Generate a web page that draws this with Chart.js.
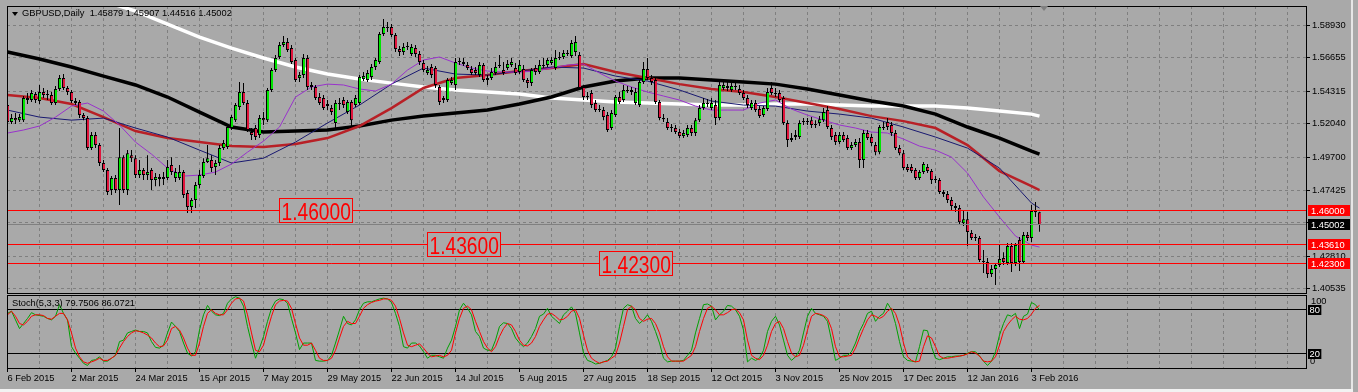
<!DOCTYPE html>
<html><head><meta charset="utf-8"><title>GBPUSD Daily</title>
<script src="https://cdn.jsdelivr.net/npm/chart.js@4.4.1/dist/chart.umd.min.js"></script>
<style>
html,body{margin:0;padding:0;}
body{width:1358px;height:392px;background:#a9a9a9;position:relative;overflow:hidden;font-family:"Liberation Sans",Arial,sans-serif;}
canvas{position:absolute;left:0;}
#mainChart{top:0;}
#stochChart{top:294px;}
.t{position:absolute;font-size:9.3px;line-height:9.3px;color:#000;white-space:pre;}
#tri{position:absolute;left:12px;top:12px;width:0;height:0;border-left:3px solid transparent;border-right:3px solid transparent;border-top:4px solid #000;}
#shift{position:absolute;left:1040px;top:6px;width:0;height:0;border-left:4px solid transparent;border-right:4px solid transparent;border-top:5px solid #808080;}
#edgeR{position:absolute;left:1351px;top:0;width:2px;height:389px;background:#e6e6e6;}
#edgeB{position:absolute;left:0;top:389px;width:1353px;height:3px;background:#f2f2f2;}
</style></head>
<body>
<canvas id="mainChart" width="1358" height="294"></canvas>
<canvas id="stochChart" width="1358" height="98"></canvas>
<div id="tri"></div>
<div class="t" id="mainTitle" style="left:22px;top:9px;"></div>
<div class="t" id="stochTitle" style="left:12px;top:299px;"></div>
<div id="shift"></div>
<div id="edgeR"></div><div id="edgeB"></div>
<script>
// ---------- tick labels ----------
const priceTicks = [1.58930,1.56655,1.54315,1.52040,1.49700,1.47425,1.45150,1.42810,1.40535];
const dateLabels = ['6 Feb 2015','2 Mar 2015','24 Mar 2015','15 Apr 2015','7 May 2015','29 May 2015','22 Jun 2015','14 Jul 2015','5 Aug 2015','27 Aug 2015','18 Sep 2015','12 Oct 2015','3 Nov 2015','25 Nov 2015','17 Dec 2015','12 Jan 2016','3 Feb 2016'];
const dateIdx = [0,16,32,48,64,80,96,112,128,144,160,176,192,208,224,240,256];
const gridIdx = [0,8,16,24,32,40,48,56,64,72,80,88,96,104,112,120,128,136,144,152,160,168,176,184,192,200,208,216,224,232,240,248,256,264,272,280,288,296,304,312,320];
const stochTicks = [0,20,80,100];

// ---------- daily candles (bar index 0 = 6 Feb 2015) ----------
const opens = [
1.5335,1.5217,1.5244,1.5230,1.5230,1.5384,1.5370,1.5412,1.5363,1.5426,
1.5405,1.5405,1.5349,1.5447,1.5523,1.5454,1.5426,1.5363,1.5356,1.5265,
1.5244,1.5035,1.5126,1.5056,1.4931,1.4882,1.4743,1.4826,1.4743,1.4972,
1.4743,1.4986,1.4965,1.4847,1.4882,1.4847,1.4882,1.4812,1.4833,1.4819,
1.4826,1.4917,1.4826,1.4826,1.4868,1.4722,1.4624,1.4673,1.4777,1.4840,
1.4938,1.4952,1.4903,1.4931,1.5035,1.5042,1.5175,1.5230,1.5321,1.5426,
1.5349,1.5147,1.5175,1.5126,1.5244,1.5230,1.5440,1.5579,1.5670,1.5753,
1.5774,1.5732,1.5649,1.5523,1.5544,1.5663,1.5461,1.5461,1.5391,1.5384,
1.5342,1.5314,1.5210,1.5349,1.5370,1.5286,1.5356,1.5335,1.5349,1.5516,
1.5509,1.5530,1.5600,1.5635,1.5830,1.5879,1.5879,1.5823,1.5725,1.5705,
1.5746,1.5691,1.5732,1.5691,1.5628,1.5558,1.5600,1.5593,1.5461,1.5370,
1.5370,1.5488,1.5475,1.5635,1.5635,1.5614,1.5586,1.5579,1.5544,1.5614,
1.5523,1.5523,1.5558,1.5614,1.5579,1.5593,1.5614,1.5593,1.5565,1.5586,
1.5509,1.5488,1.5593,1.5565,1.5614,1.5614,1.5628,1.5593,1.5670,1.5670,
1.5691,1.5677,1.5705,1.5684,1.5461,1.5391,1.5419,1.5349,1.5300,1.5300,
1.5265,1.5175,1.5265,1.5391,1.5370,1.5440,1.5440,1.5349,1.5335,1.5495,
1.5586,1.5523,1.5509,1.5356,1.5244,1.5217,1.5175,1.5175,1.5147,1.5119,
1.5126,1.5175,1.5140,1.5230,1.5314,1.5349,1.5314,1.5335,1.5244,1.5454,
1.5468,1.5440,1.5468,1.5447,1.5419,1.5384,1.5314,1.5349,1.5307,1.5265,
1.5307,1.5454,1.5419,1.5419,1.5384,1.5210,1.5091,1.5112,1.5112,1.5223,
1.5217,1.5230,1.5203,1.5210,1.5230,1.5300,1.5175,1.5126,1.5077,1.5126,
1.5105,1.5035,1.5056,1.5077,1.4952,1.5140,1.5112,1.5056,1.5007,1.5182,
1.5217,1.5196,1.5140,1.5035,1.5000,1.4903,1.4903,1.4882,1.4826,1.4868,
1.4903,1.4875,1.4819,1.4812,1.4729,1.4715,1.4673,1.4631,1.4617,1.4512,
1.4540,1.4443,1.4415,1.4408,1.4248,1.4241,1.4157,1.4192,1.4220,1.4269,
1.4234,1.4352,1.4234,1.4394,1.4241,1.4429,1.4408,1.4596,1.45879];
const highs = [
1.5370,1.5272,1.5279,1.5272,1.5398,1.5419,1.5440,1.5426,1.5475,1.5454,
1.5440,1.5426,1.5468,1.5544,1.5551,1.5468,1.5440,1.5384,1.5370,1.5279,
1.5258,1.5147,1.5147,1.5070,1.4952,1.4896,1.4840,1.4847,1.5175,1.4986,
1.5021,1.5021,1.4986,1.4952,1.4896,1.4986,1.4896,1.4861,1.4854,1.4868,
1.4952,1.4972,1.4896,1.4917,1.4882,1.4743,1.4687,1.4798,1.4882,1.4965,
1.5056,1.4986,1.4952,1.5056,1.5091,1.5196,1.5265,1.5349,1.5495,1.5488,
1.5370,1.5175,1.5196,1.5265,1.5286,1.5454,1.5593,1.5684,1.5774,1.5816,
1.5802,1.5753,1.5663,1.5565,1.5691,1.5684,1.5495,1.5475,1.5419,1.5405,
1.5370,1.5335,1.5370,1.5384,1.5391,1.5370,1.5370,1.5405,1.5544,1.5565,
1.5579,1.5621,1.5663,1.5844,1.5935,1.5914,1.5900,1.5837,1.5746,1.5767,
1.5774,1.5760,1.5753,1.5712,1.5649,1.5607,1.5621,1.5607,1.5475,1.5398,
1.5523,1.5530,1.5663,1.5663,1.5663,1.5635,1.5607,1.5600,1.5635,1.5628,
1.5544,1.5593,1.5635,1.5684,1.5635,1.5649,1.5663,1.5628,1.5649,1.5614,
1.5523,1.5593,1.5614,1.5649,1.5663,1.5663,1.5670,1.5718,1.5705,1.5718,
1.5718,1.5788,1.5816,1.5705,1.5475,1.5426,1.5440,1.5370,1.5335,1.5321,
1.5286,1.5300,1.5405,1.5426,1.5475,1.5468,1.5461,1.5454,1.5509,1.5635,
1.5663,1.5544,1.5523,1.5370,1.5272,1.5244,1.5203,1.5196,1.5168,1.5161,
1.5196,1.5196,1.5244,1.5335,1.5384,1.5377,1.5384,1.5370,1.5509,1.5509,
1.5495,1.5495,1.5495,1.5475,1.5440,1.5405,1.5370,1.5370,1.5328,1.5328,
1.5454,1.5495,1.5454,1.5440,1.5398,1.5230,1.5140,1.5161,1.5230,1.5244,
1.5244,1.5251,1.5230,1.5258,1.5314,1.5328,1.5196,1.5147,1.5147,1.5147,
1.5126,1.5077,1.5098,1.5105,1.5161,1.5161,1.5133,1.5077,1.5196,1.5217,
1.5244,1.5217,1.5161,1.5056,1.5021,1.4924,1.4924,1.4896,1.4882,1.4938,
1.4924,1.4889,1.4840,1.4826,1.4743,1.4736,1.4694,1.4652,1.4638,1.4603,
1.4589,1.4464,1.4436,1.4422,1.4324,1.4269,1.4220,1.4234,1.4366,1.4310,
1.4373,1.4373,1.4373,1.4415,1.4450,1.4450,1.4638,1.4659,1.45907];
const lows = [
1.5182,1.5203,1.5203,1.5217,1.5217,1.5342,1.5356,1.5349,1.5342,1.5384,
1.5370,1.5335,1.5335,1.5433,1.5440,1.5405,1.5349,1.5335,1.5244,1.5230,
1.5021,1.5021,1.5035,1.4910,1.4868,1.4708,1.4708,1.4722,1.4638,1.4722,
1.4708,1.4938,1.4826,1.4826,1.4812,1.4812,1.4743,1.4770,1.4770,1.4777,
1.4812,1.4847,1.4798,1.4812,1.4687,1.4582,1.4582,1.4617,1.4756,1.4826,
1.4931,1.4868,1.4847,1.4910,1.5021,1.5028,1.5161,1.5217,1.5300,1.5335,
1.5147,1.5091,1.5091,1.5105,1.5196,1.5217,1.5426,1.5565,1.5656,1.5739,
1.5705,1.5621,1.5495,1.5495,1.5523,1.5440,1.5440,1.5370,1.5335,1.5300,
1.5300,1.5265,1.5175,1.5300,1.5314,1.5272,1.5189,1.5321,1.5335,1.5502,
1.5495,1.5509,1.5579,1.5621,1.5816,1.5844,1.5809,1.5705,1.5677,1.5684,
1.5718,1.5677,1.5670,1.5614,1.5565,1.5544,1.5523,1.5454,1.5335,1.5349,
1.5356,1.5475,1.5440,1.5614,1.5607,1.5579,1.5544,1.5544,1.5530,1.5495,
1.5475,1.5509,1.5544,1.5593,1.5544,1.5579,1.5600,1.5544,1.5551,1.5495,
1.5454,1.5468,1.5544,1.5551,1.5593,1.5600,1.5614,1.5579,1.5649,1.5656,
1.5677,1.5663,1.5677,1.5440,1.5370,1.5370,1.5314,1.5286,1.5286,1.5230,
1.5147,1.5161,1.5251,1.5342,1.5356,1.5419,1.5405,1.5335,1.5321,1.5481,
1.5509,1.5475,1.5342,1.5230,1.5217,1.5161,1.5147,1.5133,1.5105,1.5105,
1.5112,1.5119,1.5119,1.5217,1.5300,1.5321,1.5300,1.5196,1.5230,1.5440,
1.5433,1.5426,1.5440,1.5405,1.5370,1.5314,1.5300,1.5286,1.5244,1.5251,
1.5293,1.5405,1.5391,1.5356,1.5196,1.5042,1.5077,1.5091,1.5098,1.5196,
1.5196,1.5175,1.5175,1.5189,1.5217,1.5168,1.5091,1.5056,1.5063,1.5077,
1.5021,1.5021,1.5042,1.4896,1.4896,1.5091,1.5049,1.4986,1.4993,1.5161,
1.5161,1.5119,1.5021,1.4986,1.4882,1.4868,1.4861,1.4812,1.4812,1.4854,
1.4861,1.4784,1.4791,1.4715,1.4694,1.4652,1.4603,1.4589,1.4500,1.4492,
1.4352,1.4394,1.4387,1.4241,1.4164,1.4129,1.4136,1.4080,1.4206,1.4220,
1.4220,1.4171,1.4213,1.4178,1.4227,1.4387,1.4380,1.4554,1.44516];
const closes = [
1.5217,1.5244,1.5230,1.5251,1.5384,1.5370,1.5419,1.5370,1.5426,1.5405,
1.5412,1.5349,1.5447,1.5523,1.5454,1.5426,1.5363,1.5349,1.5265,1.5244,
1.5035,1.5126,1.5056,1.4931,1.4882,1.4729,1.4826,1.4743,1.4972,1.4743,
1.5000,1.4965,1.4847,1.4882,1.4847,1.4868,1.4812,1.4833,1.4819,1.4833,
1.4903,1.4868,1.4868,1.4868,1.4708,1.4624,1.4673,1.4777,1.4847,1.4938,
1.4965,1.4896,1.4931,1.5035,1.5070,1.5182,1.5251,1.5335,1.5426,1.5349,
1.5161,1.5126,1.5112,1.5244,1.5230,1.5440,1.5579,1.5663,1.5753,1.5774,
1.5718,1.5635,1.5509,1.5544,1.5663,1.5461,1.5475,1.5384,1.5349,1.5314,
1.5328,1.5286,1.5349,1.5342,1.5335,1.5356,1.5230,1.5384,1.5530,1.5537,
1.5558,1.5600,1.5649,1.5830,1.5879,1.5872,1.5823,1.5725,1.5705,1.5739,
1.5739,1.5739,1.5691,1.5635,1.5579,1.5579,1.5544,1.5475,1.5356,1.5384,
1.5509,1.5509,1.5635,1.5642,1.5621,1.5593,1.5558,1.5558,1.5614,1.5509,
1.5509,1.5565,1.5600,1.5607,1.5558,1.5621,1.5635,1.5558,1.5614,1.5509,
1.5488,1.5579,1.5565,1.5614,1.5607,1.5649,1.5649,1.5663,1.5663,1.5698,
1.5698,1.5767,1.5774,1.5454,1.5391,1.5398,1.5335,1.5300,1.5307,1.5251,
1.5161,1.5279,1.5391,1.5356,1.5440,1.5433,1.5426,1.5426,1.5495,1.5586,
1.5523,1.5495,1.5356,1.5244,1.5237,1.5175,1.5182,1.5147,1.5119,1.5140,
1.5175,1.5140,1.5230,1.5314,1.5349,1.5342,1.5349,1.5244,1.5475,1.5475,
1.5454,1.5468,1.5461,1.5419,1.5384,1.5335,1.5349,1.5300,1.5258,1.5314,
1.5426,1.5419,1.5412,1.5370,1.5210,1.5091,1.5105,1.5126,1.5210,1.5217,
1.5223,1.5196,1.5196,1.5237,1.5286,1.5182,1.5112,1.5077,1.5126,1.5091,
1.5035,1.5056,1.5077,1.4952,1.5140,1.5105,1.5070,1.5007,1.5182,1.5175,
1.5182,1.5140,1.5035,1.5000,1.4896,1.4882,1.4875,1.4826,1.4868,1.4924,
1.4875,1.4812,1.4812,1.4729,1.4715,1.4673,1.4631,1.4617,1.4519,1.4540,
1.4450,1.4408,1.4408,1.4255,1.4241,1.4157,1.4192,1.4220,1.4262,1.4241,
1.4352,1.4234,1.4359,1.4241,1.4429,1.4408,1.4596,1.4588,1.45002];

// ---------- moving averages (sampled at bar indices) ----------
const maIdx = [0,8,16,24,32,40,48,56,64,72,80,88,96,104,112,120,128,136,144,152,160,168,176,184,192,200,208,216,224,232,240,248,256,258];
const maWhite = [1.6318,1.6234,1.6147,1.6060,1.5990,1.5900,1.5809,1.5732,1.5663,1.5600,1.5551,1.5516,1.5488,1.5461,1.5440,1.5426,1.5412,1.5384,1.5370,1.5356,1.5349,1.5342,1.5335,1.5335,1.5342,1.5342,1.5335,1.5328,1.5328,1.5328,1.5314,1.5293,1.5272,1.5258];
const maBlack = [1.5705,1.5656,1.5600,1.5537,1.5475,1.5391,1.5286,1.5182,1.5147,1.5154,1.5161,1.5189,1.5230,1.5258,1.5279,1.5300,1.5342,1.5391,1.5461,1.5502,1.5523,1.5523,1.5509,1.5495,1.5481,1.5447,1.5405,1.5363,1.5328,1.5272,1.5182,1.5105,1.5014,1.4993];
const maRed = [1.5405,1.5384,1.5342,1.5251,1.5154,1.5105,1.5077,1.5049,1.5042,1.5063,1.5105,1.5189,1.5314,1.5454,1.5523,1.5544,1.5572,1.5593,1.5621,1.5565,1.5523,1.5481,1.5447,1.5426,1.5391,1.5349,1.5307,1.5258,1.5223,1.5175,1.5056,1.4875,1.4770,1.4743];
const maNavy = [1.5300,1.5251,1.5230,1.5244,1.5175,1.5112,1.5021,1.4931,1.4965,1.5077,1.5210,1.5335,1.5481,1.5593,1.5551,1.5544,1.5572,1.5600,1.5593,1.5537,1.5502,1.5440,1.5363,1.5335,1.5328,1.5293,1.5272,1.5244,1.5182,1.5112,1.5035,1.4896,1.4652,1.4617];
const maFastIdx = [0,4,8,12,16,20,24,28,32,36,40,44,48,52,56,60,64,68,72,76,80,84,88,92,96,100,104,108,112,116,120,124,128,132,136,140,144,148,152,156,160,164,168,172,176,180,184,188,192,196,200,204,208,212,216,220,224,228,232,236,240,244,248,252,256,258];
const maPurple = [1.5140,1.5161,1.5189,1.5251,1.5328,1.5349,1.5293,1.5196,1.5077,1.4993,
1.4896,1.4840,1.4847,1.4868,1.4924,1.5007,1.5084,1.5182,1.5391,1.5461,
1.5481,1.5475,1.5447,1.5433,1.5481,1.5579,1.5649,1.5670,1.5628,1.5593,
1.5572,1.5565,1.5565,1.5572,1.5593,1.5614,1.5621,1.5558,1.5502,1.5461,
1.5426,1.5398,1.5370,1.5328,1.5300,1.5300,1.5300,1.5349,1.5370,1.5307,
1.5265,1.5230,1.5196,1.5175,1.5147,1.5140,1.5098,1.5049,1.5021,1.4972,
1.4861,1.4694,1.4554,1.4422,1.4359,1.4345];

// ---------- stochastic (5,3,3) ----------
const stochK = [
75,78,66,54,61,68,76,73,72,71, 68,66,71,87,75,66,29,20,13,6,
3,10,11,15,9,9,13,17,36,38, 48,50,52,50,50,48,36,28,27,31,
48,63,57,50,34,20,16,22,52,73, 86,78,73,72,75,89,95,98,96,85,
57,34,13,27,43,64,82,92,95,94, 89,68,48,25,34,34,34,10,9,9,
10,17,34,52,71,61,59,66,80,89, 91,91,93,95,96,95,90,75,57,29,
27,34,34,30,22,13,17,17,15,13, 27,38,57,80,89,82,73,50,43,27,
24,24,38,57,62,61,54,41,34,29, 34,43,54,71,74,82,71,66,61,73,
78,84,75,48,20,10,8,5,6,8, 10,15,27,57,82,87,85,68,61,66,
73,64,50,34,13,8,9,9,9,10, 17,24,48,68,87,88,85,66,73,78,
86,85,80,71,52,8,13,10,13,24, 50,64,71,59,38,17,10,15,24,48,
71,82,75,73,71,64,38,10,13,17, 17,22,34,50,61,75,78,64,71,75,
89,80,61,36,15,10,9,8,29,52, 51,29,13,11,13,15,15,16,16,17,
20,22,22,16,9,3,9,22,45,61, 73,71,75,54,71,74,90,87,79.7506];
const stochD = [
73,78,71,61,59,64,71,73,73,72, 68,67,71,75,75,66,48,27,15,8,
6,8,10,13,10,10,13,17,27,36, 43,48,51,50,48,45,41,34,29,30,
38,54,57,52,41,27,17,17,34,57, 75,80,75,73,73,80,89,95,96,92,
73,48,24,22,31,52,71,87,92,93, 92,82,61,41,31,31,34,24,13,10,
10,13,24,41,57,64,61,61,71,82, 87,90,92,93,95,95,93,85,68,48,
31,29,31,33,27,20,15,16,17,15, 17,24,48,68,82,85,80,64,50,36,
27,22,29,43,54,61,59,50,38,31, 30,34,43,57,66,74,75,71,66,67,
71,78,80,68,45,24,13,9,6,8, 9,13,17,34,57,80,85,80,68,64,
67,68,61,48,29,15,9,9,9,9, 13,17,29,50,68,82,85,80,73,73,
76,80,81,76,66,38,17,13,11,17, 31,50,61,64,54,36,20,15,17,31,
52,71,75,74,72,68,54,29,15,15, 16,17,27,41,54,66,73,71,68,71,
78,82,75,59,34,15,10,8,9,29, 44,41,29,16,13,13,14,15,16,17,
19,22,20,16,9,8,9,15,31,50, 59,66,71,67,66,68,74,82,86.0721];
const stochLevels = [80,20];

// ---------- horizontal lines ----------
const levelValues = [1.46000,1.43610,1.42300];
const levelTexts = ['1.46000','1.43600','1.42300'];
const levelTextAt = [68,105,148];
const bidPrice = 1.45002;

// ---------- styles ----------
const FONT = '"Liberation Sans", Arial, sans-serif';
const BG = '#a9a9a9', GRID = '#7f7f7f';
const BULL = '#00e600', BEAR = '#e0143c';
const N = opens.length;
const barIdx = opens.map((_, i) => i);

document.getElementById('mainTitle').textContent =
  'GBPUSD,Daily  ' + [opens[N-1], highs[N-1], lows[N-1], closes[N-1]].map(v => v.toFixed(5)).join(' ');
document.getElementById('stochTitle').textContent =
  'Stoch(5,3,3) ' + stochK[N-1].toFixed(4) + ' ' + stochD[N-1].toFixed(4);

function lineSet(label, idx, vals, color, width, order) {
  return { type: 'line', label, data: idx.map((v, k) => ({ x: v, y: vals[k] })),
    borderColor: color, borderWidth: width, pointRadius: 0, fill: false, tension: 0, order };
}

const framePlugin = {
  id: 'frame',
  afterDraw(chart) {
    const { ctx, chartArea: a } = chart;
    ctx.save();
    ctx.strokeStyle = '#000'; ctx.lineWidth = 1;
    ctx.strokeRect(a.left + 0.5, a.top + 0.5, a.right - a.left, a.bottom - a.top);
    ctx.restore();
  }
};

const mainOverlay = {
  id: 'mainOverlay',
  afterDatasetsDraw(chart) {
    const { ctx, chartArea: a, scales: { x, y } } = chart;
    ctx.save();
    ctx.beginPath(); ctx.rect(a.left, a.top, a.right - a.left, a.bottom - a.top); ctx.clip();
    ctx.lineWidth = 1;
    let py = Math.floor(y.getPixelForValue(bidPrice)) + 0.5;
    ctx.strokeStyle = '#808080';
    ctx.beginPath(); ctx.moveTo(a.left, py); ctx.lineTo(a.right, py); ctx.stroke();
    ctx.strokeStyle = '#ff0000';
    levelValues.forEach(v => {
      const p = Math.floor(y.getPixelForValue(v)) + 0.5;
      ctx.beginPath(); ctx.moveTo(a.left, p); ctx.lineTo(a.right, p); ctx.stroke();
    });
    levelValues.forEach((v, k) => {
      const bx = Math.floor(x.getPixelForValue(levelTextAt[k]));
      const ly = Math.floor(y.getPixelForValue(v));
      const by = ly - 12;
      ctx.fillStyle = BG; ctx.fillRect(bx, by, 74, 25);
      ctx.strokeStyle = '#ff0000'; ctx.strokeRect(bx + 0.5, by + 0.5, 73, 24);
      ctx.save();
      ctx.translate(bx + 2.5, ly + 10);
      ctx.scale(0.8, 1);
      ctx.fillStyle = '#ff0000';
      ctx.font = '24px ' + FONT;
      ctx.textBaseline = 'alphabetic';
      ctx.fillText(levelTexts[k], 0, 0);
      ctx.restore();
    });
    ctx.restore();
  },
  afterDraw(chart) {
    const { ctx, scales: { y } } = chart;
    const boxes = [
      { v: levelValues[0], c: '#ff0000' },
      { v: bidPrice, c: '#000000' },
      { v: levelValues[1], c: '#ff0000' },
      { v: levelValues[2], c: '#ff0000' }
    ];
    ctx.save();
    ctx.font = '9.3px ' + FONT;
    ctx.textBaseline = 'alphabetic';
    boxes.forEach(b => {
      const p = Math.floor(y.getPixelForValue(b.v));
      ctx.fillStyle = b.c;
      ctx.fillRect(1308, p - 5, 42, 11);
      ctx.fillStyle = '#ffffff';
      ctx.fillText(b.v.toFixed(5), 1311, p + 4);
    });
    ctx.restore();
  }
};

const stochOverlay = {
  id: 'stochOverlay',
  beforeDatasetsDraw(chart) {
    const { ctx, chartArea: a, scales: { y } } = chart;
    ctx.save(); ctx.strokeStyle = '#000'; ctx.lineWidth = 1;
    stochLevels.forEach(v => {
      const p = Math.floor(y.getPixelForValue(v)) + 0.5;
      ctx.beginPath(); ctx.moveTo(a.left, p); ctx.lineTo(a.right, p); ctx.stroke();
    });
    ctx.restore();
  },
  afterDraw(chart) {
    const { ctx, scales: { y } } = chart;
    ctx.save();
    ctx.font = '9.3px ' + FONT;
    ctx.textBaseline = 'alphabetic';
    stochTicks.forEach(v => {
      const p = y.getPixelForValue(v);
      const txt = String(v);
      if (v === 20 || v === 80) {
        const w = ctx.measureText(txt).width;
        ctx.fillStyle = '#000';
        ctx.fillRect(1308, Math.floor(p) - 4, w + 3, 10);
        ctx.fillStyle = '#fff';
        ctx.fillText(txt, 1309.5, Math.floor(p) + 4);
      } else if (v === 100) {
        ctx.fillStyle = '#000';
        ctx.fillText(txt, 1311, p + 8.5);
      } else {
        ctx.fillStyle = '#000';
        ctx.fillText(txt, 1310, p - 3.5);
      }
    });
    ctx.restore();
  }
};

const xCommon = {
  type: 'linear', min: -0.125, max: 324.625, offset: false,
  afterBuildTicks: s => { s.ticks = gridIdx.map(v => ({ value: v })); }
};

new Chart(document.getElementById('mainChart'), {
  type: 'bar',
  data: {
    datasets: [
      { type: 'bar', label: 'Range', data: barIdx.map(i => ({ x: i, y: [lows[i], highs[i]] })),
        backgroundColor: '#000', borderWidth: 0, barThickness: 1, grouped: false, inflateAmount: 0, order: 1 },
      { type: 'bar', label: 'Body', data: barIdx.map(i => ({ x: i, y: [opens[i], closes[i]] })),
        backgroundColor: barIdx.map(i => closes[i] >= opens[i] ? BULL : BEAR),
        borderColor: '#000', borderWidth: { left: 1, right: 0, top: 1, bottom: 1 }, borderSkipped: false,
        barThickness: 3, minBarLength: 1, grouped: false, inflateAmount: 0, order: 0 },
      lineSet('MA white', maIdx, maWhite, '#ffffff', 3.5, 7),
      lineSet('MA black', maIdx, maBlack, '#000000', 3.5, 6),
      lineSet('MA red', maIdx, maRed, '#b82026', 2.5, 5),
      lineSet('MA navy', maIdx, maNavy, '#191970', 1, 4),
      lineSet('MA purple', maFastIdx, maPurple, '#9932cc', 1, 3)
    ]
  },
  options: {
    responsive: false, animation: false, devicePixelRatio: 1, events: [],
    layout: { padding: { left: 7, top: 6, right: 0, bottom: 1 } },
    plugins: { legend: { display: false }, tooltip: { enabled: false } },
    scales: {
      x: Object.assign({}, xCommon, {
        afterFit: s => { s.height = 0; s.paddingLeft = 0; s.paddingRight = 0; },
        ticks: { display: false },
        grid: { color: GRID, offset: false, drawTicks: false, lineWidth: 1 },
        border: { display: false, dash: [3, 3] }
      }),
      y: {
        type: 'linear', position: 'right', min: 1.40251, max: 1.60255, beginAtZero: false,
        afterBuildTicks: s => { s.ticks = priceTicks.map(v => ({ value: v })); },
        afterFit: s => { s.width = 52; s.paddingTop = 0; s.paddingBottom = 0; },
        ticks: { callback: v => v.toFixed(5), color: '#000', font: { family: FONT, size: 9.3 }, padding: 2, autoSkip: false },
        grid: { color: GRID, drawTicks: true, tickLength: 4, tickColor: '#000', tickBorderDash: [], tickWidth: 1, lineWidth: 1 },
        border: { display: false, dash: [3, 3] }
      }
    }
  },
  plugins: [framePlugin, mainOverlay]
});

new Chart(document.getElementById('stochChart'), {
  type: 'line',
  data: {
    datasets: [
      lineSet('%K', barIdx, stochK, '#00a000', 1, 2),
      lineSet('%D', barIdx, stochD, '#ff0000', 1, 1)
    ]
  },
  options: {
    responsive: false, animation: false, devicePixelRatio: 1, events: [],
    layout: { padding: { left: 7, top: 1, right: 0, bottom: 0 } },
    plugins: { legend: { display: false }, tooltip: { enabled: false } },
    scales: {
      x: Object.assign({}, xCommon, {
        afterFit: s => { s.height = 24; s.paddingLeft = 0; s.paddingRight = 0; },
        ticks: { autoSkip: false, maxRotation: 0, minRotation: 0, align: 'start', padding: 1, color: '#000',
          font: { family: FONT, size: 9.3 },
          callback: v => { const k = dateIdx.indexOf(v); return k < 0 ? '' : dateLabels[k]; } },
        grid: { color: GRID, offset: false, drawTicks: true, tickLength: 4, tickBorderDash: [], lineWidth: 1,
          tickColor: c => (c.tick && dateIdx.indexOf(c.tick.value) >= 0) ? '#000' : 'rgba(0,0,0,0)' },
        border: { display: false, dash: [3, 3] }
      }),
      y: {
        type: 'linear', position: 'right', min: -0.5, max: 100.4,
        afterBuildTicks: s => { s.ticks = stochTicks.map(v => ({ value: v })); },
        afterFit: s => { s.width = 52; s.paddingTop = 0; s.paddingBottom = 0; },
        ticks: { display: false }, grid: { display: false }, border: { display: false }
      }
    }
  },
  plugins: [framePlugin, stochOverlay]
});
</script>
</body></html>
